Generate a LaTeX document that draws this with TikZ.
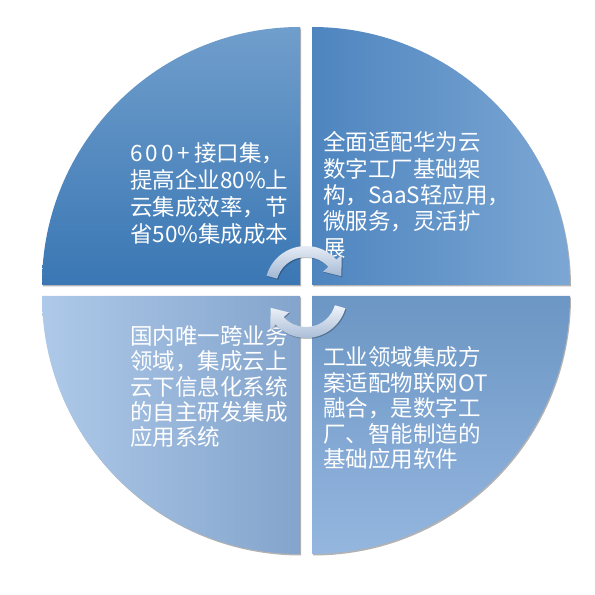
\documentclass[tikz,border=0pt]{standalone}
\usepackage{fontspec}
\setmainfont{Noto Sans CJK SC}
\usepackage{tikz}
\usetikzlibrary{shadows}

\definecolor{tlTop}{RGB}{112,158,204}
\definecolor{tlBot}{RGB}{58,119,180}
\definecolor{trLeft}{RGB}{78,133,191}
\definecolor{trRight}{RGB}{124,167,212}
\definecolor{blLeft}{RGB}{174,201,233}
\definecolor{blRight}{RGB}{131,164,204}
\definecolor{brTop}{RGB}{108,150,196}
\definecolor{brBot}{RGB}{148,182,223}
\definecolor{arrowLight}{RGB}{240,244,250}
\definecolor{arrowDark}{RGB}{160,181,210}

\begin{document}
\begin{tikzpicture}[x=1pt,y=1pt,
  quarter/.style={drop shadow={shadow xshift=1pt,shadow yshift=-1.5pt,opacity=0.3,fill=black}},
  cycarrow/.style={top color=arrowLight,bottom color=arrowDark,
    drop shadow={shadow xshift=1pt,shadow yshift=-1pt,opacity=0.25,fill=black}},
  txt/.style={text=white,align=left,anchor=north west,inner sep=0pt,font=\fontsize{22.5}{27}\selectfont}]

\useasboundingbox (0,0) rectangle (595,595);

% Top-left quadrant
\path[quarter, top color=tlTop, bottom color=tlBot]
  (300,310) -- (42,310) arc[start angle=180, end angle=90, radius=258] -- cycle;
\node[txt] (tl) at (130,453) {6\kern3pt0\kern3pt0\kern4pt+\kern4pt接口集，\\提高企业80\%上\\云集成效率，节\\省50\%集成成本};

% Top-right quadrant
\path[quarter, left color=trLeft, right color=trRight]
  (312,310) -- (312,568) arc[start angle=90, end angle=0, radius=258] -- cycle;
\node[txt, font=\fontsize{22.5}{26.3}\selectfont] (tr) at (323,463.5) {全面适配华为云\\数字工厂基础架\\构，SaaS轻应用，\\微服务，灵活扩\\展};

% Bottom-left quadrant
\path[quarter, left color=blLeft, right color=blRight]
  (300,299) -- (300,41) arc[start angle=270, end angle=180, radius=258] -- cycle;
\node[txt, font=\fontsize{22.5}{25.3}\selectfont] (bl) at (130,269.5) {国内唯一跨业务\\领域，集成云上\\云下信息化系统\\的自主研发集成\\应用系统};

% Bottom-right quadrant
\path[quarter, top color=brTop, bottom color=brBot]
  (312,299) -- (570,299) arc[start angle=0, end angle=-90, radius=258] -- cycle;
\node[txt, font=\fontsize{22.5}{25.5}\selectfont] (br) at (323,248.5) {工业领域集成方\\案适配物联网OT\\融合，是数字工\\厂、智能制造的\\基础应用软件};

% Cycle arrows in the middle
\begin{scope}[shift={(306,308)}]
  \path[cycarrow] (164:41) arc[start angle=164, end angle=42, radius=41]
    -- (42:48) -- (17:37) -- (42:23) -- (42:30)
    arc[start angle=42, end angle=164, radius=30] -- cycle;
\end{scope}
\begin{scope}[shift={(306,298)}]
  \path[cycarrow] (344:41) arc[start angle=344, end angle=222, radius=41]
    -- (222:48) -- (197:37) -- (222:23) -- (222:30)
    arc[start angle=222, end angle=344, radius=30] -- cycle;
\end{scope}

\end{tikzpicture}
\end{document}
